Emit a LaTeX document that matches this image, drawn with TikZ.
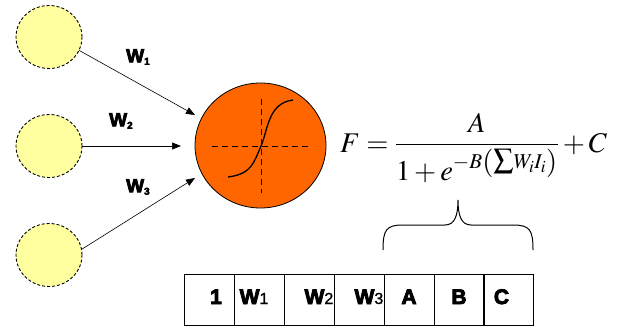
\documentclass[tikz,border=0pt]{standalone}
\usepackage{mathptmx}
\usepackage[no-math]{fontspec}
\setsansfont{Liberation Sans}
\newfontfamily\heavysans[FakeBold=4]{Liberation Sans Bold}
\newfontfamily\plainsans[FakeBold=1]{Liberation Sans}
\usetikzlibrary{arrows.meta,shapes.geometric}
\definecolor{inyellow}{RGB}{255,255,160}
\definecolor{neuronorange}{RGB}{255,102,0}
\newcommand{\wlab}[1]{W\raisebox{-2.5pt}{\fontsize{10}{10}\selectfont #1}}
\newcommand{\wcell}[1]{W{\plainsans\fontsize{16}{16}\selectfont #1}}
\begin{document}
\begin{tikzpicture}[x=1pt,y=-1pt,
  innode/.style={ellipse, draw, dash pattern=on 3pt off 2pt, fill=inyellow,
    minimum width=66pt, minimum height=63pt, inner sep=0pt, line width=0.9pt},
  neuron/.style={ellipse, draw, fill=neuronorange, minimum width=131pt,
    minimum height=125pt, inner sep=0pt, line width=0.8pt},
  conn/.style={-{Triangle[length=9pt,width=7pt]}, line width=0.6pt},
  axisline/.style={dash pattern=on 6pt off 4pt, line width=0.8pt},
  wlabel/.style={font=\heavysans\fontsize{19}{19}\selectfont, inner sep=0pt},
  cell/.style={draw, minimum width=50pt, minimum height=51pt, inner sep=0pt, line width=1pt},
  celltext/.style={font=\heavysans\fontsize{21}{21}\selectfont, inner sep=0pt},
  brace/.style={line width=1pt}
]
\useasboundingbox (0,0) rectangle (617,326);

% input nodes
\node[innode] (in1) at (49,37) {};
\node[innode] (in2) at (49,146) {};
\node[innode] (in3) at (49,255) {};

% neuron
\node[neuron] (neuron) at (260.5,145.5) {};
\coordinate (hl) at (212,146);
\coordinate (hr) at (310,146);
\coordinate (vt) at (261,99);
\coordinate (vb) at (261,193);
\draw[axisline] (hl) -- (hr);
\draw[axisline] (vt) -- (vb);
\coordinate (s0) at (228,177);
\coordinate (s1) at (261,146);
\coordinate (s2) at (293,100);
\draw[line width=1.3pt] (s0) .. controls (252,174) and (254,162) .. (s1)
   .. controls (268,130) and (268,103) .. (s2);

% connectors
\coordinate (t1) at (195,115);
\coordinate (t2) at (181,146);
\coordinate (t3) at (195,178);
\draw[conn] (in1.-24) -- (t1);
\draw[conn] (in2.east) -- (t2);
\draw[conn] (in3.10) -- (t3);

% weight labels
\node[wlabel, anchor=west] (w1) at (126,57) {\wlab{1}};
\node[wlabel, anchor=west] (w2) at (109,121) {\wlab{2}};
\node[wlabel, anchor=west] (w3) at (126,187) {\wlab{3}};

% formula
\node[anchor=base west, inner sep=0pt, font=\fontsize{28.5}{28.5}\selectfont] (formula) at (340,152)
  {$\displaystyle F=\frac{A}{1+e^{-B\left({\textstyle\sum} W_i I_i\right)}}+C$};

% brace
\coordinate (bl) at (383,250);
\coordinate (br) at (533,250);
\coordinate (btip) at (458,200);
\draw[brace] (bl) .. controls (383,230) and (386,225) .. (403,225) -- (445,225)
   .. controls (455,225) and (458,215) .. (btip)
   .. controls (458,215) and (461,225) .. (471,225) -- (513,225)
   .. controls (530,225) and (533,230) .. (br);

% table
\node[cell] (c1) at (209,299.5) {};
\node[cell] (c2) at (259,299.5) {};
\node[cell] (c3) at (309,299.5) {};
\node[cell] (c4) at (359,299.5) {};
\node[cell] (c5) at (409,299.5) {};
\node[cell] (c6) at (459,299.5) {};
\node[cell] (c7) at (508.5,299.5) {};
\node[celltext, anchor=base] (x1) at (216,304) {1};
\node[celltext, anchor=base west] (x2) at (239.5,304) {\wcell{1}};
\node[celltext, anchor=base east] (x3) at (333.5,304) {\wcell{2}};
\node[celltext, anchor=base east] (x4) at (383.5,304) {\wcell{3}};
\node[celltext, anchor=base] (x5) at (409,304) {A};
\node[celltext, anchor=base] (x6) at (459,304) {B};
\node[celltext, anchor=base] (x7) at (501.5,304) {C};
\end{tikzpicture}
\end{document}
